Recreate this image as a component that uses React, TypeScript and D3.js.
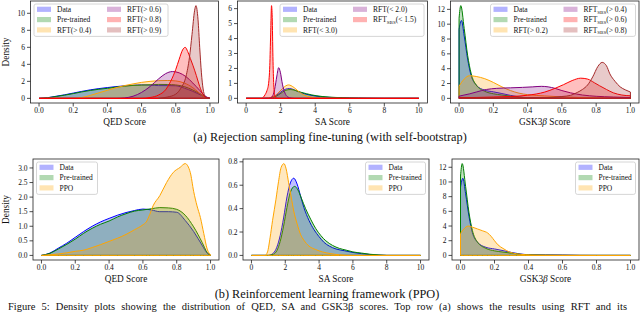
import React from 'react';
import * as d3 from 'd3';

type Pt = [number, number];

// density curves: [score, density]
const qedData: Pt[] = [[0, 0], [0.05, 0.08], [0.1, 0.25], [0.15, 0.42], [0.2, 0.62], [0.25, 0.82], [0.3, 1.0], [0.35, 1.15], [0.4, 1.27], [0.45, 1.38], [0.5, 1.47], [0.55, 1.54], [0.6, 1.59], [0.65, 1.56], [0.7, 1.5], [0.75, 1.5], [0.8, 1.48], [0.85, 1.2], [0.9, 0.82], [0.95, 0.35], [0.98, 0.08], [1.0, 0]];
const qedPre: Pt[] = [[0, 0], [0.05, 0.07], [0.1, 0.22], [0.15, 0.38], [0.2, 0.56], [0.25, 0.76], [0.3, 0.93], [0.35, 1.07], [0.4, 1.18], [0.45, 1.32], [0.5, 1.43], [0.55, 1.52], [0.6, 1.56], [0.65, 1.6], [0.7, 1.64], [0.75, 1.63], [0.8, 1.58], [0.85, 1.38], [0.9, 0.98], [0.95, 0.45], [0.98, 0.1], [1.0, 0]];
const qedRft4: Pt[] = [[0, 0], [0.2, 0.02], [0.25, 0.1], [0.3, 0.35], [0.35, 0.65], [0.4, 0.95], [0.45, 1.25], [0.5, 1.5], [0.55, 1.7], [0.6, 1.88], [0.65, 2.0], [0.7, 2.08], [0.75, 2.1], [0.8, 2.05], [0.85, 1.8], [0.9, 1.25], [0.93, 0.75], [0.96, 0.25], [0.98, 0.05], [1.0, 0]];
const qedRft6: Pt[] = [[0, 0], [0.45, 0], [0.5, 0.05], [0.55, 0.25], [0.6, 0.7], [0.65, 1.4], [0.7, 2.3], [0.74, 2.9], [0.78, 3.15], [0.82, 3.0], [0.86, 2.55], [0.9, 1.8], [0.94, 0.95], [0.97, 0.3], [1.0, 0]];
const qedRft8: Pt[] = [[0, 0], [0.6, 0], [0.65, 0.1], [0.7, 0.4], [0.74, 1.0], [0.77, 2.0], [0.8, 3.4], [0.82, 4.6], [0.84, 5.7], [0.855, 6.0], [0.87, 5.5], [0.885, 4.7], [0.9, 3.9], [0.92, 2.7], [0.94, 1.4], [0.96, 0.45], [0.98, 0.05], [1.0, 0]];
const qedRft9: Pt[] = [[0.7, 0], [0.75, 0.15], [0.8, 0.5], [0.83, 1.2], [0.86, 2.6], [0.88, 4.8], [0.895, 7.5], [0.91, 10.3], [0.918, 10.9], [0.93, 9.3], [0.94, 6.0], [0.95, 3.0], [0.96, 1.1], [0.97, 0.3], [0.98, 0.05], [1.0, 0]];
const qedPpo: Pt[] = [[0, 0], [0.05, 0.02], [0.1, 0.05], [0.15, 0.09], [0.2, 0.14], [0.25, 0.18], [0.3, 0.27], [0.35, 0.37], [0.4, 0.48], [0.45, 0.59], [0.5, 0.72], [0.55, 0.88], [0.6, 1.05], [0.62, 1.15], [0.64, 1.4], [0.66, 1.7], [0.7, 2.05], [0.74, 2.5], [0.78, 2.85], [0.82, 3.02], [0.85, 3.15], [0.88, 2.85], [0.9, 2.2], [0.92, 1.7], [0.94, 1.3], [0.96, 0.75], [0.98, 0.22], [1.0, 0.02]];

const saData: Pt[] = [[0, 0], [1.0, 0], [1.3, 0.02], [1.5, 0.07], [1.7, 0.17], [1.9, 0.32], [2.1, 0.5], [2.3, 0.62], [2.5, 0.66], [2.7, 0.61], [2.9, 0.51], [3.1, 0.41], [3.4, 0.3], [3.7, 0.22], [4.0, 0.16], [4.3, 0.11], [4.6, 0.08], [5.0, 0.055], [5.5, 0.04], [6.0, 0.025], [6.5, 0.015], [7.0, 0.008], [7.5, 0.003], [8.0, 0], [10, 0]];
const saPre: Pt[] = [[0, 0], [1.0, 0], [1.3, 0.01], [1.5, 0.04], [1.7, 0.12], [1.9, 0.25], [2.1, 0.41], [2.3, 0.54], [2.55, 0.59], [2.75, 0.56], [2.95, 0.49], [3.2, 0.4], [3.5, 0.31], [3.8, 0.23], [4.1, 0.17], [4.4, 0.125], [4.8, 0.085], [5.2, 0.06], [5.6, 0.045], [6.0, 0.03], [6.5, 0.02], [7.0, 0.01], [7.6, 0.003], [8.0, 0], [10, 0]];
const saRft3: Pt[] = [[0, 0], [1.1, 0], [1.4, 0.05], [1.7, 0.2], [1.9, 0.42], [2.1, 0.65], [2.3, 0.84], [2.45, 0.9], [2.6, 0.85], [2.8, 0.7], [3.0, 0.5], [3.2, 0.32], [3.4, 0.2], [3.7, 0.1], [4.0, 0.05], [4.5, 0.02], [5.0, 0.005], [5.5, 0], [10, 0]];
const saRft2: Pt[] = [[0, 0], [1.3, 0], [1.5, 0.1], [1.65, 0.6], [1.78, 1.5], [1.88, 2.05], [1.98, 1.75], [2.1, 0.95], [2.25, 0.35], [2.4, 0.1], [2.6, 0.02], [2.8, 0], [10, 0]];
const saSbs15: Pt[] = [[0, 0], [0.9, 0], [1.0, 0.08], [1.1, 0.25], [1.2, 0.5], [1.3, 1.0], [1.37, 2.2], [1.42, 4.3], [1.47, 6.2], [1.51, 5.4], [1.55, 2.8], [1.6, 0.9], [1.66, 0.2], [1.75, 0.02], [1.85, 0], [10, 0]];
const saPpo: Pt[] = [[0, 0], [0.8, 0], [0.95, 0.03], [1.1, 0.15], [1.25, 0.3], [1.45, 0.48], [1.6, 0.63], [1.75, 0.75], [1.92, 0.785], [2.05, 0.74], [2.2, 0.62], [2.35, 0.5], [2.5, 0.38], [2.7, 0.27], [2.9, 0.18], [3.1, 0.13], [3.4, 0.08], [3.8, 0.05], [4.2, 0.03], [4.7, 0.015], [5.2, 0.005], [6, 0], [10, 0]];

const gskData: Pt[] = [[0, 9.3], [0.014, 10.5], [0.03, 8.4], [0.05, 5.3], [0.07, 3.1], [0.1, 1.8], [0.15, 1.1], [0.2, 0.88], [0.25, 0.65], [0.3, 0.4], [0.35, 0.2], [0.4, 0.1], [0.5, 0.07], [0.6, 0.05], [0.65, 0.03], [0.7, 0.005], [0.8, 0], [1.0, 0]];
const gskPre: Pt[] = [[0, 10.8], [0.01, 12.5], [0.03, 9.4], [0.05, 5.8], [0.07, 3.4], [0.1, 1.8], [0.15, 0.95], [0.2, 0.62], [0.25, 0.45], [0.3, 0.3], [0.35, 0.15], [0.4, 0.07], [0.5, 0.03], [0.6, 0.01], [0.7, 0], [1.0, 0]];
const gskRft2: Pt[] = [[0, 1.65], [0.03, 2.6], [0.06, 3.05], [0.1, 2.95], [0.15, 2.65], [0.2, 2.15], [0.25, 1.55], [0.3, 1.05], [0.35, 0.7], [0.4, 0.5], [0.5, 0.33], [0.6, 0.2], [0.7, 0.12], [0.8, 0.07], [0.9, 0.04], [1.0, 0.02]];
const gskSbs4: Pt[] = [[0, 0.3], [0.06, 0.6], [0.1, 0.85], [0.16, 1.2], [0.22, 1.35], [0.3, 1.42], [0.37, 1.48], [0.43, 1.55], [0.48, 1.62], [0.52, 1.55], [0.56, 1.35], [0.6, 1.05], [0.65, 0.75], [0.72, 0.45], [0.8, 0.28], [0.9, 0.18], [1.0, 0.12]];
const gskSbs6: Pt[] = [[0, 0.1], [0.1, 0.12], [0.2, 0.18], [0.3, 0.25], [0.4, 0.42], [0.5, 0.85], [0.56, 1.35], [0.61, 1.85], [0.66, 2.4], [0.71, 2.72], [0.75, 2.6], [0.79, 2.1], [0.82, 1.7], [0.86, 1.2], [0.9, 0.75], [0.95, 0.45], [1.0, 0.35]];
const gskSbs8: Pt[] = [[0, 0.05], [0.3, 0.06], [0.5, 0.1], [0.6, 0.25], [0.65, 0.4], [0.69, 0.8], [0.72, 1.2], [0.75, 1.8], [0.78, 2.9], [0.81, 4.3], [0.835, 4.85], [0.86, 4.4], [0.88, 3.3], [0.91, 2.3], [0.94, 1.55], [0.97, 1.15], [1.0, 0.85]];
const gskPpo: Pt[] = [[0, 3.0], [0.02, 3.6], [0.045, 4.0], [0.07, 3.85], [0.1, 3.6], [0.13, 3.35], [0.16, 3.05], [0.18, 2.6], [0.2, 2.0], [0.22, 1.45], [0.25, 0.95], [0.29, 0.45], [0.33, 0.22], [0.38, 0.1], [0.45, 0.04], [0.55, 0.02], [0.65, 0.01], [0.8, 0], [1.0, 0]];

// tick values
const unitTicks = [0, 0.2, 0.4, 0.6, 0.8, 1.0];
const saTicks = [0, 2, 4, 6, 8, 10];
const qedRsY = [0, 2, 4, 6, 8, 10];
const saRsY = [0, 1, 2, 3, 4, 5, 6];
const gskY = [0, 2, 4, 6, 8, 10, 12];
const qedPpoY = [0, 0.5, 1.0, 1.5, 2.0, 2.5, 3.0];
const saPpoY = [0, 0.2, 0.4, 0.6, 0.8];

const C = {
  blue: '#0000ff', green: '#008000', orange: '#ffa500',
  purple: '#800080', red: '#ff0000', brown: '#a52a2a',
};

const FONT = '"Liberation Serif", "Times New Roman", serif';

interface Series { name: string; sub?: string; tail?: string; color: string; pts: Pt[] }
interface PanelCfg {
  frame: { x0: number; x1: number; y0: number; y1: number };
  xExtent: [number, number];
  xTicks: number[]; xFmt: string;
  yTicks: number[]; yFmt: string;
  xlabel: 'QED' | 'SA' | 'GSK';
  ylabel: boolean;
  series: Series[];
  legend: { side: 'left' | 'right'; width: number; cols: number };
}

const base = (pre: Pt[], data: Pt[]): Series[] => [
  { name: 'Data', color: C.blue, pts: data },
  { name: 'Pre-trained', color: C.green, pts: pre },
];

const TOP = { y0: 1, y1: 103 };
const BOT = { y0: 159, y1: 260 };

const panels: PanelCfg[] = [
  {
    frame: { x0: 30.5, x1: 218.5, ...TOP }, xExtent: [0, 1], xTicks: unitTicks, xFmt: '.1f',
    yTicks: qedRsY, yFmt: 'd', xlabel: 'QED', ylabel: true,
    series: [...base(qedPre, qedData),
      { name: 'RFT', tail: '(> 0.4)', color: C.orange, pts: qedRft4 },
      { name: 'RFT', tail: '(> 0.6)', color: C.purple, pts: qedRft6 },
      { name: 'RFT', tail: '(> 0.8)', color: C.red, pts: qedRft8 },
      { name: 'RFT', tail: '(> 0.9)', color: C.brown, pts: qedRft9 }],
    legend: { side: 'left', width: 134, cols: 2 },
  },
  {
    frame: { x0: 237.5, x1: 427.5, ...TOP }, xExtent: [0, 10], xTicks: saTicks, xFmt: 'd',
    yTicks: saRsY, yFmt: 'd', xlabel: 'SA', ylabel: false,
    series: [...base(saPre, saData),
      { name: 'RFT', tail: '(< 3.0)', color: C.orange, pts: saRft3 },
      { name: 'RFT', tail: '(< 2.0)', color: C.purple, pts: saRft2 },
      { name: 'RFT', sub: 'SBS', tail: '(< 1.5)', color: C.red, pts: saSbs15 }],
    legend: { side: 'right', width: 144, cols: 2 },
  },
  {
    frame: { x0: 450.5, x1: 639, ...TOP }, xExtent: [0, 1], xTicks: unitTicks, xFmt: '.1f',
    yTicks: gskY, yFmt: 'd', xlabel: 'GSK', ylabel: false,
    series: [...base(gskPre, gskData),
      { name: 'RFT', tail: '(> 0.2)', color: C.orange, pts: gskRft2 },
      { name: 'RFT', sub: 'SBS', tail: '(> 0.4)', color: C.purple, pts: gskSbs4 },
      { name: 'RFT', sub: 'SBS', tail: '(> 0.6)', color: C.red, pts: gskSbs6 },
      { name: 'RFT', sub: 'SBS', tail: '(> 0.8)', color: C.brown, pts: gskSbs8 }],
    legend: { side: 'right', width: 145, cols: 2 },
  },
  {
    frame: { x0: 33, x1: 219, ...BOT }, xExtent: [0, 1], xTicks: unitTicks, xFmt: '.1f',
    yTicks: qedPpoY, yFmt: '.1f', xlabel: 'QED', ylabel: true,
    series: [...base(qedPre, qedData), { name: 'PPO', color: C.orange, pts: qedPpo }],
    legend: { side: 'left', width: 61, cols: 1 },
  },
  {
    frame: { x0: 243, x1: 429, ...BOT }, xExtent: [0, 10], xTicks: saTicks, xFmt: 'd',
    yTicks: saPpoY, yFmt: '.1f', xlabel: 'SA', ylabel: false,
    series: [...base(saPre, saData), { name: 'PPO', color: C.orange, pts: saPpo }],
    legend: { side: 'right', width: 60, cols: 1 },
  },
  {
    frame: { x0: 452, x1: 639, ...BOT }, xExtent: [0, 1], xTicks: unitTicks, xFmt: '.1f',
    yTicks: gskY, yFmt: 'd', xlabel: 'GSK', ylabel: false,
    series: [...base(gskPre, gskData), { name: 'PPO', color: C.orange, pts: gskPpo }],
    legend: { side: 'right', width: 60, cols: 1 },
  },
];

function Label({ s, x, y }: { s: Series; x: number; y: number }) {
  return (
    <text x={x} y={y} fontSize={7.5} fill="#111">
      {s.name}
      {s.sub && <tspan fontSize={5} dy={1.8}>{s.sub}</tspan>}
      {s.tail && <tspan fontSize={7.5} dy={s.sub ? -1.8 : 0}>{s.tail}</tspan>}
    </text>
  );
}

function Panel({ p }: { p: PanelCfg }) {
  const { x0, x1, y0, y1 } = p.frame;
  const [lo, hi] = p.xExtent;
  const pad = (hi - lo) * 0.05;
  const xs = d3.scaleLinear().domain([lo - pad, hi + pad]).range([x0, x1]);
  const ymax = d3.max(p.series, (s) => d3.max(s.pts, (d) => d[1]) as number) as number;
  const ys = d3.scaleLinear().domain([-0.05 * ymax, 1.05 * ymax]).range([y1, y0]);
  const area = d3.area<Pt>().x((d) => xs(d[0])).y0(ys(0)).y1((d) => ys(d[1])).curve(d3.curveMonotoneX);
  const xf = d3.format(p.xFmt);
  const yf = d3.format(p.yFmt);

  const n = p.series.length;
  const perCol = Math.ceil(n / p.legend.cols);
  const lw = p.legend.width;
  const lh = perCol * 10.3 + 1.5;
  const bx = p.legend.side === 'left' ? x0 + 3.5 : x1 - 3.5 - lw;
  const by = y0 + 3;

  return (
    <g>
      {p.series.map((s, i) => (
        <path key={i} d={area(s.pts) ?? ''} fill={s.color} fillOpacity={0.25}
          stroke={s.color} strokeWidth={1} strokeLinejoin="round" />
      ))}
      <rect x={x0} y={y0} width={x1 - x0} height={y1 - y0} fill="none" stroke="#222" strokeWidth={0.8} />
      {p.xTicks.map((t) => (
        <g key={'x' + t}>
          <line x1={xs(t)} x2={xs(t)} y1={y1} y2={y1 + 3.5} stroke="#222" strokeWidth={0.8} />
          <text x={xs(t)} y={y1 + 9.5} fontSize={7.5} textAnchor="middle" fill="#111">{xf(t)}</text>
        </g>
      ))}
      {p.yTicks.map((t) => (
        <g key={'y' + t}>
          <line x1={x0 - 3.5} x2={x0} y1={ys(t)} y2={ys(t)} stroke="#222" strokeWidth={0.8} />
          <text x={x0 - 5.5} y={ys(t) + 2.6} fontSize={7.5} textAnchor="end" fill="#111">{yf(t)}</text>
        </g>
      ))}
      <text x={(x0 + x1) / 2} y={y1 + 22} fontSize={9.3} textAnchor="middle" fill="#111">
        {p.xlabel === 'GSK' ? (<>GSK3<tspan fontStyle="italic">β</tspan> Score</>) : `${p.xlabel} Score`}
      </text>
      {p.ylabel && (
        <text transform={`translate(9,${(y0 + y1) / 2}) rotate(-90)`} fontSize={9.3} textAnchor="middle" fill="#111">Density</text>
      )}
      <rect x={bx} y={by} width={lw} height={lh} rx={2} fill="#fff" fillOpacity={0.8} stroke="#ccc" strokeWidth={0.8} />
      {p.series.map((s, i) => {
        const col = Math.floor(i / perCol);
        const row = i % perCol;
        const cy = by + 5.3 + row * 10.3;
        const hx = bx + 3 + col * 70;
        return (
          <g key={'l' + i}>
            <rect x={hx} y={cy - 2.6} width={14} height={5.2} fill={s.color} fillOpacity={0.3} />
            <Label s={s} x={hx + 20} y={cy + 2.6} />
          </g>
        );
      })}
    </g>
  );
}

export default function App() {
  return (
    <svg width={640} height={312} style={{ position: 'absolute', left: 0, top: 0, background: '#fff' }}
      fontFamily={FONT}>
      {panels.map((p, i) => <Panel key={i} p={p} />)}
      <text x={330} y={141} fontSize={12.3} textAnchor="middle" fill="#111">
        (a) Rejection sampling fine-tuning (with self-bootstrap)
      </text>
      <text x={327} y={297.5} fontSize={12.3} textAnchor="middle" fill="#111">
        (b) Reinforcement learning framework (PPO)
      </text>
      <text x={8} y={309.5} fontSize={10.5} fill="#111" wordSpacing={3.5}>
        Figure 5: Density plots showing the distribution of QED, SA and GSK3β scores. Top row (a) shows the results using RFT and its
      </text>
    </svg>
  );
}
